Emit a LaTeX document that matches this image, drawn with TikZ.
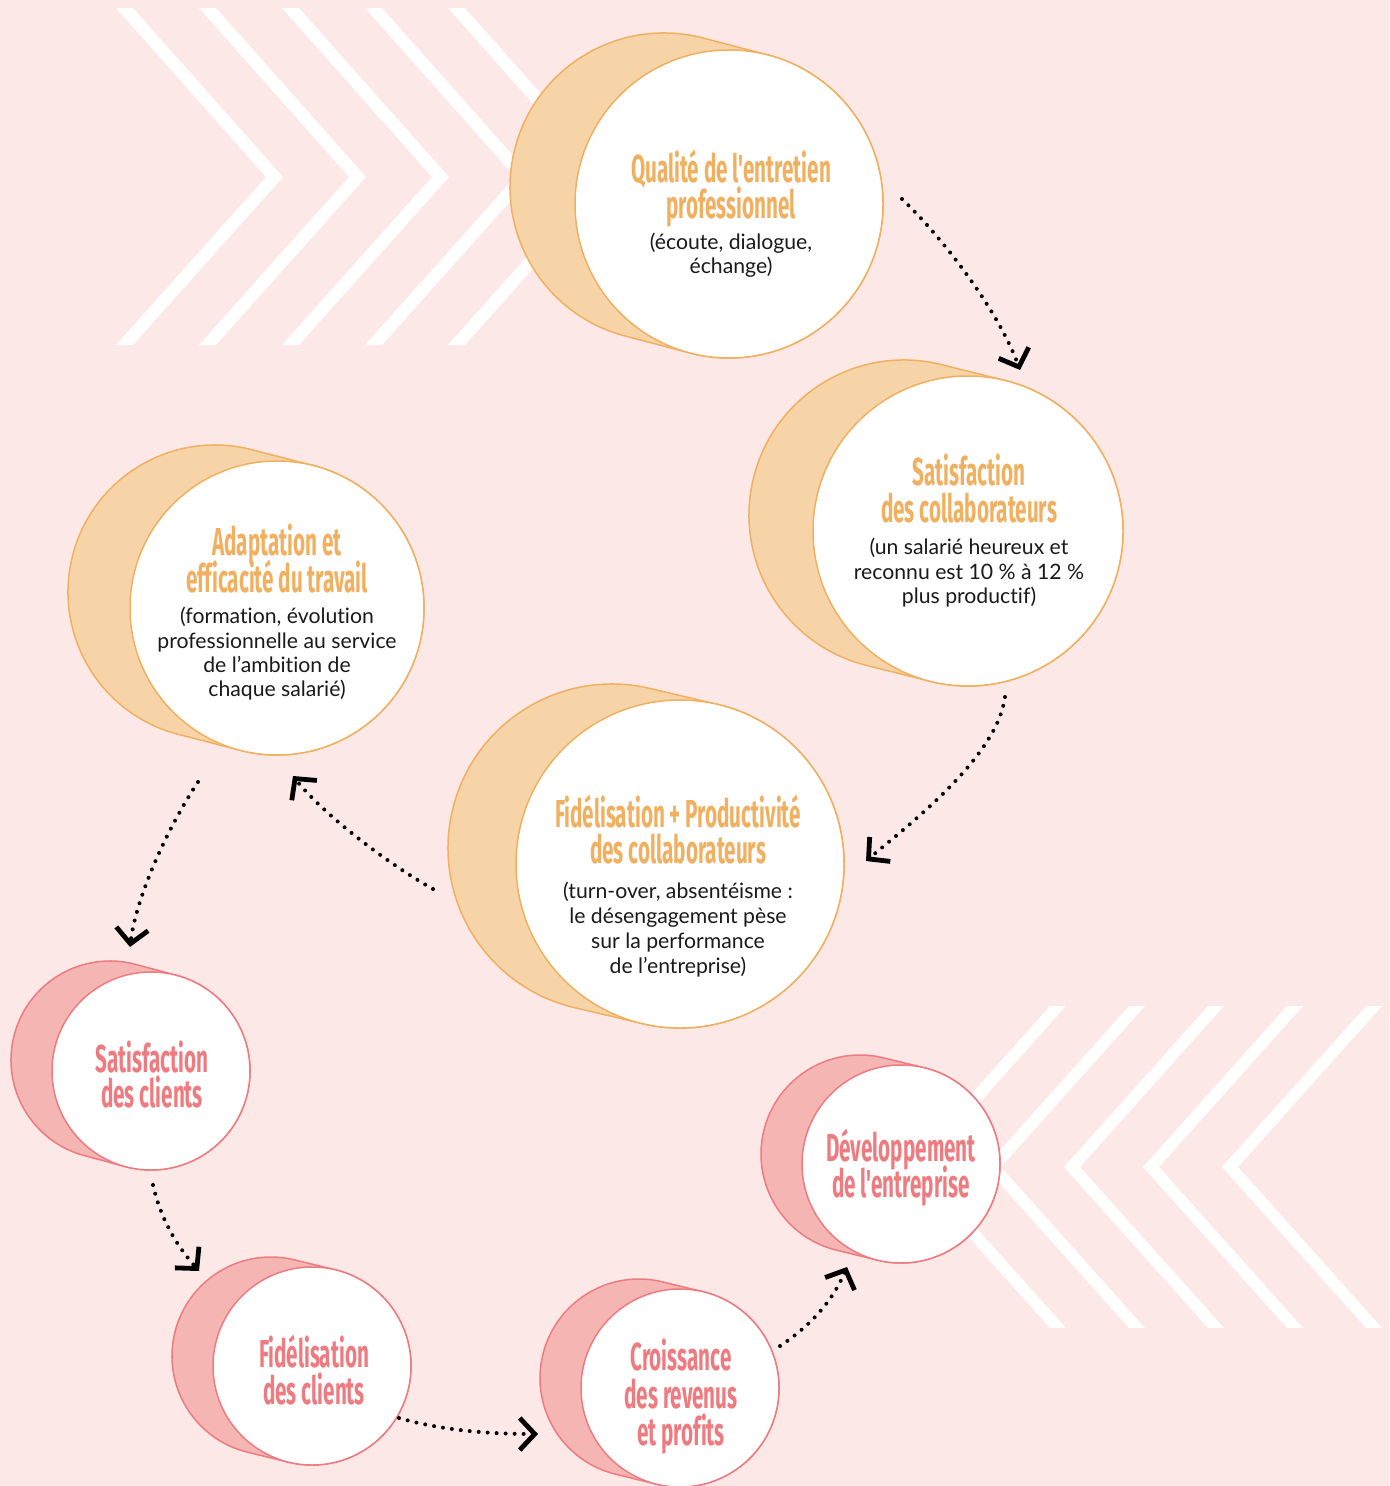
\documentclass[tikz,border=0pt]{standalone}
\usepackage{fontspec}
\usetikzlibrary{arrows.meta,calc}
\setmainfont{Lato}[Ligatures={TeX,NoCommon}]
\newfontfamily\titlefont[FakeStretch=0.53,Ligatures={TeXOff,NoCommon}]{Fira Sans}
\definecolor{bgpink}{HTML}{FCE8E6}
\definecolor{orFill}{HTML}{F7D3A8}
\definecolor{orLine}{HTML}{F0B060}
\definecolor{pkFill}{HTML}{F4B5B3}
\definecolor{pkLine}{HTML}{EE7B80}
\definecolor{ink}{HTML}{1A1A1A}
\tikzset{
  chev/.style={fill=white, draw=none},
  ttl/.style={font=\titlefont\bfseries\fontsize{19.5}{18}\selectfont, inner sep=0pt, anchor=base},
  ttlO/.style={ttl, text=orLine},
  ttlP/.style={ttl, text=pkLine},
  bodytxt/.style={font=\fontsize{10.6}{12}\selectfont, inner sep=0pt, anchor=base, text=ink},
  flow/.style={draw=black, line width=2pt, line cap=round, dash pattern=on 0pt off 4.5pt,
    -{Straight Barb[length=7.5pt,width=16pt,line width=2.4pt]}},
}
% #1 name, #2 cx, #3 cy, #4 r, #5 dx, #6 dy, #7 fill, #8 line
\newcommand\cylinder[8]{%
  \pgfmathsetmacro\cyang{atan2(-(#5),#6)}%
  \pgfmathsetmacro\cyangb{\cyang+180}%
  \coordinate (#1F) at (#2,#3);
  \coordinate (#1B) at ({#2+#5},{#3+#6});
  \draw[fill=#7, draw=#8, line width=0.75pt, line join=round]
    ($(#1B)+(\cyang:#4)$) arc[start angle=\cyang, delta angle=180, radius=#4]
    -- ($(#1F)+(\cyangb:#4)$) arc[start angle=\cyangb, delta angle=180, radius=#4] -- cycle;
  \node[circle, fill=white, draw=#8, line width=0.75pt, minimum size=#4pt, inner sep=0pt] (#1) at (#1F) {};
}
\newcommand\chevR[1]{\fill[chev] (#1,8) -- ({#1+17},8) -- ({#1+167},177) -- ({#1+17},345) -- (#1,345) -- ({#1+150},177) -- cycle;}
\newcommand\chevL[1]{\fill[chev] (#1,1006) -- ({#1-16},1006) -- ({#1-160},1167) -- ({#1-16},1328) -- (#1,1328) -- ({#1-144},1167) -- cycle;}
\begin{document}
\begin{tikzpicture}[x=0.5pt, y=-0.5pt]
\useasboundingbox (0,0) rectangle (1389,1486);
\clip (0,0) rectangle (1389,1486);
\fill[bgpink] (0,0) rectangle (1389,1486);
% chevrons
\foreach \k in {0,...,4} { \chevR{116+83*\k} }
\foreach \k in {0,...,4} { \chevL{1382-79*\k} }
% cylinders
\cylinder{q}{729}{204}{154}{-65}{-17}{orFill}{orLine}
\cylinder{s}{968}{531}{155}{-64}{-16}{orFill}{orLine}
\cylinder{a}{277}{608}{147}{-62}{-16}{orFill}{orLine}
\cylinder{fp}{680}{864}{164}{-68}{-16}{orFill}{orLine}
\cylinder{sc}{151}{1071}{99}{-41}{-11}{pkFill}{pkLine}
\cylinder{fc}{312}{1366}{99}{-41}{-10}{pkFill}{pkLine}
\cylinder{cr}{680}{1388}{99}{-41}{-10}{pkFill}{pkLine}
\cylinder{dv}{901}{1164}{99}{-41}{-10}{pkFill}{pkLine}
% texts
\node[ttlO] (q1) at (731,183) {Qualité de l'entretien};
\node[ttlO] (q2) at (731,219) {professionnel};
\node[bodytxt] (q3) at (731,250) {(écoute, dialogue,};
\node[bodytxt] (q4) at (731,274) {échange)};
\node[ttlO] (s1) at (969,485) {Satisfaction};
\node[ttlO] (s2) at (969,522) {des collaborateurs};
\node[bodytxt] (s3) at (969,554) {(un salarié heureux et};
\node[bodytxt] (s4) at (969,579) {reconnu est 10 \% à 12 \%};
\node[bodytxt] (s5) at (969,603) {plus productif)};
\node[ttlO] (a1) at (277,555) {Adaptation et};
\node[ttlO] (a2) at (277,592) {efficacité du travail};
\node[bodytxt] (a3) at (277,623) {(formation, évolution};
\node[bodytxt] (a4) at (277,648) {professionnelle au service};
\node[bodytxt] (a5) at (277,672) {de l’ambition de};
\node[bodytxt] (a6) at (277,696) {chaque salarié)};
\node[ttlO] (f1) at (678,827) {Fidélisation + Productivité};
\node[ttlO] (f2) at (678,863) {des collaborateurs};
\node[bodytxt] (f3) at (678,898) {(turn-over, absentéisme :};
\node[bodytxt] (f4) at (678,923) {le désengagement pèse};
\node[bodytxt] (f5) at (678,948) {sur la performance};
\node[bodytxt] (f6) at (678,973) {de l’entreprise)};
\node[ttlP] (c1) at (152,1072) {Satisfaction};
\node[ttlP] (c2) at (152,1107) {des clients};
\node[ttlP] (d1) at (314,1367) {Fidélisation};
\node[ttlP] (d2) at (314,1404) {des clients};
\node[ttlP] (r1) at (681,1370) {Croissance};
\node[ttlP] (r2) at (681,1408) {des revenus};
\node[ttlP] (r3) at (681,1445) {et profits};
\node[ttlP] (v1) at (901,1161) {Développement};
\node[ttlP] (v2) at (901,1197) {de l'entreprise};
% arrow end points
\coordinate (a1s) at (902,199);  \coordinate (a1e) at (1020,370);
\coordinate (a2s) at (1005,697); \coordinate (a2e) at (866,861);
\coordinate (a3s) at (433,889);  \coordinate (a3e) at (293,776);
\coordinate (a4s) at (198,782);  \coordinate (a4e) at (130,947);
\coordinate (a5s) at (153,1185); \coordinate (a5e) at (199,1271);
\coordinate (a6s) at (399,1418); \coordinate (a6e) at (538,1434);
\coordinate (a7s) at (780,1346); \coordinate (a7e) at (847,1267);
\draw[flow] (a1s) .. controls +(40,38) and +(-22,-60) .. (a1e);
\draw[flow] (a2s) .. controls +(-8,60) and +(45,-38) .. (a2e);
\draw[flow] (a3s) .. controls +(-45,-25) and +(30,38) .. (a3e);
\draw[flow] (a4s) .. controls +(-30,45) and +(6,-50) .. (a4e);
\draw[flow] (a5s) .. controls +(8,35) and +(-22,-25) .. (a5e);
\draw[flow] (a6s) .. controls +(45,13) and +(-45,0) .. (a6e);
\draw[flow] (a7s) .. controls +(30,-20) and +(-15,35) .. (a7e);
\end{tikzpicture}
\end{document}
